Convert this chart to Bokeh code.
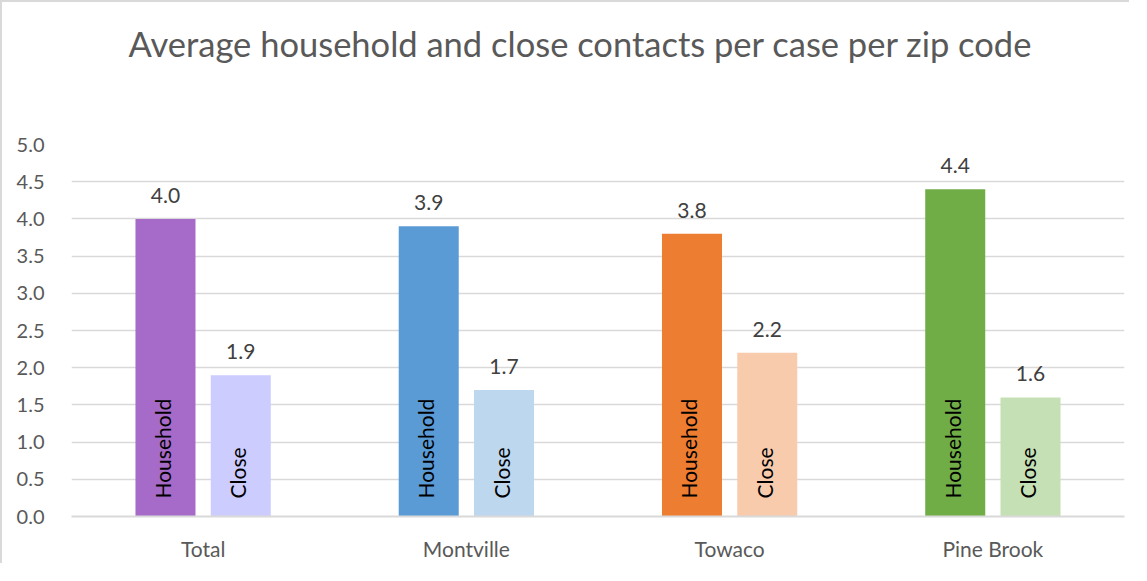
from bokeh.plotting import figure
from bokeh.models import ColumnDataSource, FactorRange, Range1d, SingleIntervalTicker, NumeralTickFormatter
from bokeh.transform import dodge
from bokeh.core.properties import value
from bokeh.embed import file_html
from bokeh.resources import INLINE
import math

title_text = "Average household and close contacts per case per zip code"
categories = ["Total", "Montville", "Towaco", "Pine Brook"]
household = [4.0, 3.9, 3.8, 4.4]
close = [1.9, 1.7, 2.2, 1.6]
household_colors = ["#A66AC8", "#5B9BD5", "#ED7D31", "#70AD47"]
close_colors = ["#CCCCFF", "#BDD7EE", "#F8CBAD", "#C5E0B4"]

src = ColumnDataSource(dict(
    cat=categories,
    household=household,
    close=close,
    hh_color=household_colors,
    cl_color=close_colors,
    hh_label=["%.1f" % v for v in household],
    cl_label=["%.1f" % v for v in close],
    hh_name=["Household"] * len(categories),
    cl_name=["Close"] * len(categories),
    zero=[0] * len(categories),
))

FONT = "Lato"
FS = "21px"

p = figure(x_range=FactorRange(*categories), y_range=Range1d(0, 5),
           width=1129, height=563, output_backend="svg", toolbar_location=None,
           min_border_left=69, min_border_right=7, min_border_top=142, min_border_bottom=49)

p.styles = {"border-left": "2px solid #d9d9d9", "border-top": "2px solid #d9d9d9"}

# two trailing empty lines lift the title well above the plot frame
p.title.text = title_text + "\n\n"
p.title.align = "left"
p.title.offset = 57
p.title.vertical_align = "bottom"
p.title.standoff = -2
p.title.text_font = FONT
p.title.text_font_size = "34.5px"
p.title.text_font_style = "normal"
p.title.text_color = "#595959"

off = 0.143
w = 0.228
p.vbar(x=dodge("cat", -off, range=p.x_range), top="household", width=w,
       fill_color="hh_color", line_color=None, source=src)
p.vbar(x=dodge("cat", off, range=p.x_range), top="close", width=w,
       fill_color="cl_color", line_color=None, source=src)

for col, lab, d in (("household", "hh_label", -off), ("close", "cl_label", off)):
    p.text(x=dodge("cat", d, range=p.x_range), y=col, text=lab, source=src,
           text_font=value(FONT), text_font_size=FS, text_color="#404040",
           text_align="center", text_baseline="bottom", y_offset=-16)

for name, d in (("hh_name", -off), ("cl_name", off)):
    p.text(x=dodge("cat", d, range=p.x_range), y="zero", text=name, source=src,
           angle=math.pi / 2, text_font=value(FONT), text_font_size=FS,
           text_color="#000000", text_align="left", text_baseline="middle",
           x_offset=-3, y_offset=-18)

p.yaxis.ticker = SingleIntervalTicker(interval=0.5)
p.yaxis.formatter = NumeralTickFormatter(format="0.0")
p.yaxis.axis_line_color = None
p.yaxis.major_tick_line_color = None
p.yaxis.minor_tick_line_color = None
p.yaxis.major_label_standoff = 21
p.yaxis.major_label_text_font = FONT
p.yaxis.major_label_text_font_size = "20px"
p.yaxis.major_label_text_color = "#595959"

p.xaxis.axis_line_color = "#d9d9d9"
p.xaxis.axis_line_width = 2
p.xaxis.major_tick_line_color = None
p.xaxis.minor_tick_line_color = None
p.xaxis.major_label_standoff = 13
p.xaxis.major_label_text_font = FONT
p.xaxis.major_label_text_font_size = FS
p.xaxis.major_label_text_color = "#595959"

p.xgrid.grid_line_color = None
p.ygrid.grid_line_color = "#d9d9d9"
p.ygrid.grid_line_width = 1.5
p.ygrid.ticker = SingleIntervalTicker(interval=0.5)
p.outline_line_color = None
p.x_range.range_padding = 0
p.x_range.group_padding = 0

open("out.html", "w").write(file_html(p, INLINE))
